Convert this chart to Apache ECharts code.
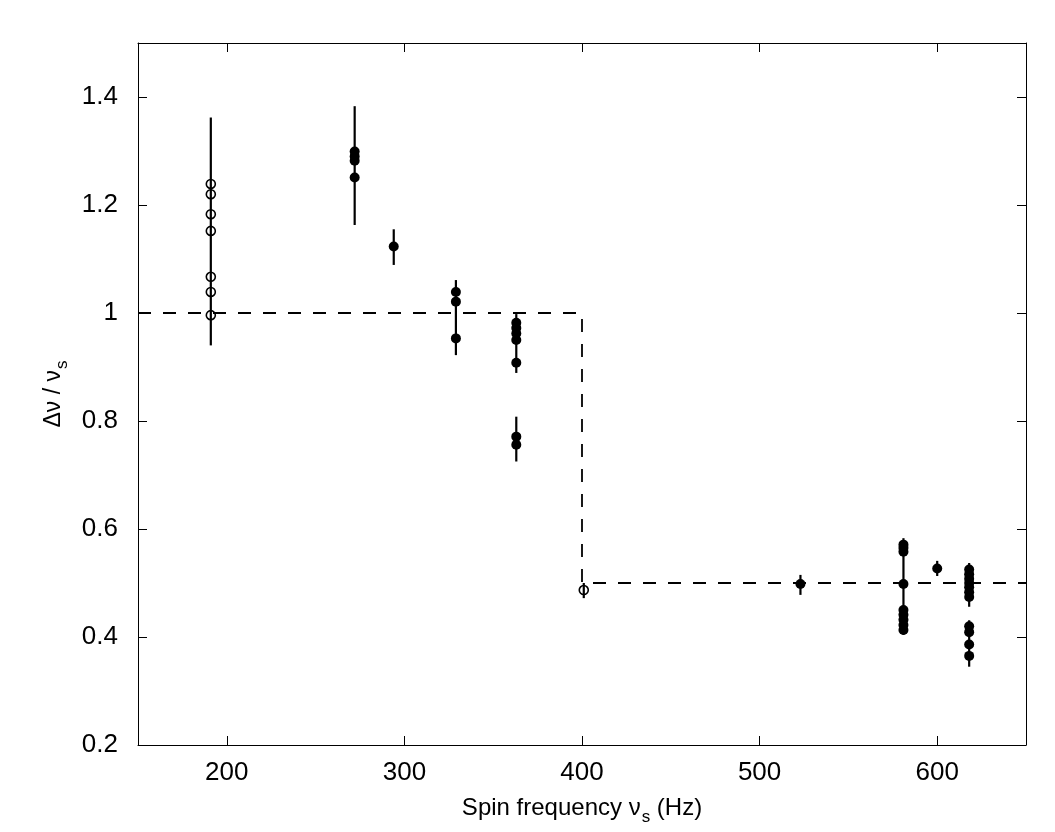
<!DOCTYPE html>
<html><head><meta charset="utf-8">
<script src="https://cdn.jsdelivr.net/npm/echarts@6/dist/echarts.min.js"></script>
<style>html,body{margin:0;padding:0;background:#fff}#c{width:1055px;height:832px}</style>
</head><body><div id="c"></div>
<script>
// tick labels
const xTicks = [200, 300, 400, 500, 600];
const yTicks = [0.2, 0.4, 0.6, 0.8, 1, 1.2, 1.4];

// open circles [spin frequency, ratio]
const openPoints = [
  [191, 1.239], [191, 1.220], [191, 1.183], [191, 1.152],
  [191, 1.067], [191, 1.039], [191, 0.996],
  [401, 0.487]
];

// filled circles [spin frequency, ratio]
const filledPoints = [
  [272, 1.299], [272, 1.290], [272, 1.282], [272, 1.251],
  [294, 1.123],
  [329, 1.039], [329, 1.021], [329, 0.953],
  [363, 0.982], [363, 0.972], [363, 0.962], [363, 0.950], [363, 0.908],
  [363, 0.771], [363, 0.756],
  [523, 0.498],
  [581, 0.571], [581, 0.565], [581, 0.558], [581, 0.498],
  [581, 0.450], [581, 0.441], [581, 0.432], [581, 0.422], [581, 0.413],
  [600, 0.527],
  [618, 0.525], [618, 0.516], [618, 0.508], [618, 0.500], [618, 0.492],
  [618, 0.483], [618, 0.474],
  [618, 0.420], [618, 0.409], [618, 0.386], [618, 0.365]
];

// error bars [spin frequency, low, high]
const errorBars = [
  [191, 0.940, 1.362],
  [272, 1.163, 1.383],
  [294, 1.089, 1.155],
  [329, 0.922, 1.061],
  [363, 0.889, 0.998],
  [363, 0.725, 0.808],
  [401, 0.472, 0.500],
  [523, 0.478, 0.515],
  [581, 0.404, 0.583],
  [600, 0.513, 0.541],
  [618, 0.456, 0.537],
  [618, 0.345, 0.431]
];

// dashed step reference line
const stepLine = [[150, 1], [400, 1], [400, 0.5], [650, 0.5]];

const FONT = '"Liberation Sans", Arial, Helvetica, sans-serif';
const chart = echarts.init(document.getElementById('c'), null, {renderer: 'canvas'});

const baseX = {
  type: 'value', min: 150, max: 650,
  axisLine: {show: true, onZero: false, lineStyle: {color: '#000', width: 1}},
  splitLine: {show: false},
  axisTick: {show: true, inside: true, length: 9, customValues: xTicks, lineStyle: {color: '#000', width: 1}}
};
const baseY = {
  type: 'value', min: 0.2, max: 1.5,
  axisLine: {show: true, onZero: false, lineStyle: {color: '#000', width: 1}},
  splitLine: {show: false},
  axisTick: {show: true, inside: true, length: 9, customValues: yTicks, lineStyle: {color: '#000', width: 1}}
};

chart.setOption({
  animation: false,
  backgroundColor: '#fff',
  grid: {left: 138, right: 29, top: 43, bottom: 87, containLabel: false},
  xAxis: [
    Object.assign({}, baseX, {
      position: 'bottom',
      axisLabel: {show: true, customValues: xTicks, color: '#000', fontSize: 26, fontFamily: FONT, margin: 15},
      name: '{a|Spin frequency ν}{s|s}{a| (Hz)}',
      nameLocation: 'middle', nameGap: 46,
      nameTextStyle: {
        color: '#000', fontFamily: FONT,
        rich: {
          a: {fontSize: 24, fontFamily: FONT, color: '#000'},
          s: {fontSize: 17, fontFamily: FONT, color: '#000', padding: [18, 0, 0, 1]}
        }
      }
    }),
    Object.assign({}, baseX, {position: 'top', axisLabel: {show: false}})
  ],
  yAxis: [
    Object.assign({}, baseY, {
      position: 'left',
      axisLabel: {show: true, customValues: yTicks, color: '#000', fontSize: 26, fontFamily: FONT, margin: 20,
        formatter: v => String(+Number(v).toFixed(1))},
      name: '{a|Δν / ν}{s|s}',
      nameLocation: 'middle', nameGap: 62, nameRotate: 90,
      nameTextStyle: {
        color: '#000', fontFamily: FONT,
        rich: {
          a: {fontSize: 23, fontFamily: FONT, color: '#000'},
          s: {fontSize: 17, fontFamily: FONT, color: '#000', padding: [17, 0, 0, 1]}
        }
      }
    }),
    Object.assign({}, baseY, {position: 'right', axisLabel: {show: false}})
  ],
  series: [
    {
      type: 'line', data: stepLine, symbol: 'none', silent: true,
      lineStyle: {color: '#000', width: 1.8, type: [13, 12]}, z: 2
    },
    {
      type: 'custom', data: errorBars, silent: true, z: 3,
      encode: {x: 0, y: [1, 2]},
      renderItem: (params, api) => {
        const p1 = api.coord([api.value(0), api.value(1)]);
        const p2 = api.coord([api.value(0), api.value(2)]);
        return {type: 'line', shape: {x1: p1[0], y1: p1[1], x2: p2[0], y2: p2[1]},
          style: {stroke: '#000', lineWidth: 2.2}};
      }
    },
    {
      type: 'scatter', data: filledPoints, symbol: 'circle', symbolSize: 10, z: 4,
      itemStyle: {color: '#000', opacity: 1}
    },
    {
      type: 'scatter', data: openPoints, symbol: 'circle', symbolSize: 9, z: 4,
      itemStyle: {color: 'rgba(0,0,0,0)', borderColor: '#000', borderWidth: 1.6, opacity: 1}
    }
  ]
});
</script>
</body></html>
